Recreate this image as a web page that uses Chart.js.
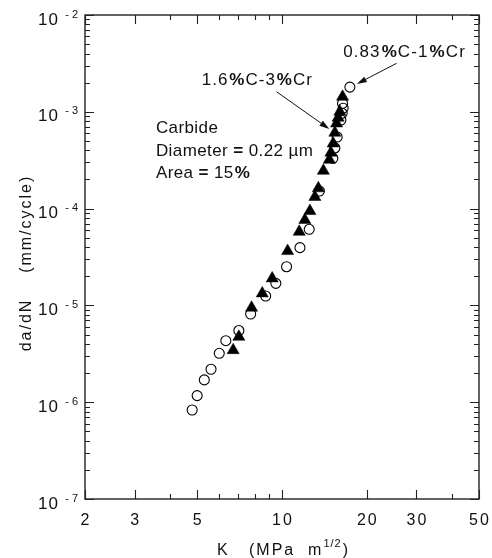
<!DOCTYPE html>
<html><head><meta charset="utf-8">
<script src="https://cdn.jsdelivr.net/npm/chart.js@4.4.1/dist/chart.umd.min.js"></script>
<style>html,body{margin:0;padding:0;background:#fff}#wrap{width:492px;height:558px}</style>
</head><body><div id="wrap"><canvas id="c" width="492" height="558"></canvas></div>
<script>
// ---- data ----
const circleK    = [17.41, 16.40, 16.48, 16.35, 16.18, 15.69, 15.40, 15.15, 13.57, 12.49, 11.58, 10.38, 9.51, 8.75, 7.74, 7.03, 6.32, 5.99, 5.60, 5.30, 5.00, 4.80];
const circleRate = [1.80e-3, 1.22e-3, 1.09e-3, 9.65e-4, 8.23e-4, 5.49e-4, 4.23e-4, 3.31e-4, 1.52e-4, 6.11e-5, 3.95e-5, 2.51e-5, 1.69e-5, 1.25e-5, 8.15e-6, 5.50e-6, 4.32e-6, 3.20e-6, 2.19e-6, 1.70e-6, 1.17e-6, 8.31e-7];
const triangleK    = [16.40, 16.04, 15.82, 15.62, 15.40, 15.19, 14.91, 14.72, 14.02, 13.46, 13.08, 12.56, 12.05, 11.51, 10.47, 9.23, 8.51, 7.80, 7.03, 6.71];
const triangleRate = [1.43e-3, 1.00e-3, 8.68e-4, 7.58e-4, 6.07e-4, 4.71e-4, 3.78e-4, 3.19e-4, 2.46e-4, 1.62e-4, 1.32e-4, 9.43e-5, 7.62e-5, 5.76e-5, 3.64e-5, 1.90e-5, 1.33e-5, 9.46e-6, 4.74e-6, 3.45e-6];
const xTickLabels = [2, 3, 5, 10, 20, 30, 50];
const xMinorTicks = [4, 6, 7, 8, 9, 40];
const yDecadeExponents = [-7, -6, -5, -4, -3, -2];
const xTitle = ['K', '(MPa  m', '1/2', ')'];
const yTitle = 'da/dN    (mm/cycle)';

// annotation anchors (in data space)
const notes = {
  label1: {k: 16.48, r: 4.08e-3, sp: 1.1, parts: [{t:'0.83'},{t:'%',b:1,pre:1},{t:'C-1'},{t:'%',b:1,pre:1},{t:'Cr'}]},
  arrow1: {from: {k: 25.5, r: 3.17e-3}, to: {k: 18.43, r: 1.94e-3}},
  label2: {k: 5.19, r: 2.13e-3, sp: 1.0, parts: [{t:'1.6'},{t:'%',b:1,pre:1},{t:'C-3'},{t:'%',b:1,pre:1},{t:'Cr'}]},
  arrow2: {from: {k: 9.57, r: 1.61e-3}, to: {k: 14.72, r: 6.64e-4}},
  block: {k: 3.57, sp: 0.4, lines: [
    {r: 6.75e-4, parts: [{t:'Carbide'}]},
    {r: 3.87e-4, parts: [{t:'Diameter '},{t:'=',b:1},{t:' 0.22 \u00b5m'}]},
    {r: 2.32e-4, parts: [{t:'Area '},{t:'=',b:1},{t:' 15'},{t:'%',b:1,pre:1}]}
  ]}
};

const FONT = '"Liberation Sans", Arial, Helvetica, sans-serif';
const INK = '#111';

// draw text char by char with extra tracking; returns advance width
function spacedWidth(ctx, text, sp) {
  let w = 0;
  for (const ch of text) w += ctx.measureText(ch).width + sp;
  return w - sp;
}
function drawSpaced(ctx, text, x, y, sp, align) {
  const w = spacedWidth(ctx, text, sp);
  let cx = align === 'center' ? x - w / 2 : align === 'right' ? x - w : x;
  const old = ctx.textAlign;
  ctx.textAlign = 'left';
  for (const ch of text) {
    ctx.fillText(ch, cx, y);
    cx += ctx.measureText(ch).width + sp;
  }
  ctx.textAlign = old;
  return w;
}

function drawRich(ctx, x, y, parts, size, sp) {
  let cx = x;
  for (const p of parts) {
    ctx.font = (p.b ? 'bold ' : '') + size + 'px ' + FONT;
    cx += (p.pre || 0);
    cx += drawSpaced(ctx, p.t, cx, y, sp, 'left') + sp;
  }
}

function arrow(ctx, x1, y1, x2, y2) {
  const a = Math.atan2(y2 - y1, x2 - x1), L = 10, W = 3;
  ctx.beginPath();
  ctx.moveTo(x1, y1);
  ctx.lineTo(x2 - Math.cos(a) * L * 0.8, y2 - Math.sin(a) * L * 0.8);
  ctx.stroke();
  ctx.beginPath();
  ctx.moveTo(x2, y2);
  ctx.lineTo(x2 - Math.cos(a) * L - Math.sin(a) * W, y2 - Math.sin(a) * L + Math.cos(a) * W);
  ctx.lineTo(x2 - Math.cos(a) * L + Math.sin(a) * W, y2 - Math.sin(a) * L - Math.cos(a) * W);
  ctx.closePath();
  ctx.fill();
}

const framePlugin = {
  id: 'frame',
  beforeDatasetsDraw(chart) {
    const ctx = chart.ctx, xs = chart.scales.x, ys = chart.scales.y, a = chart.chartArea;
    ctx.save();
    ctx.strokeStyle = '#222';
    ctx.lineWidth = 1.4;
    ctx.strokeRect(a.left, a.top, a.right - a.left, a.bottom - a.top);
    ctx.lineWidth = 1.1;
    ctx.beginPath();
    const MAJ = 9, MIN = 5;
    const xt = xTickLabels.map(v => [v, MAJ]).concat(xMinorTicks.map(v => [v, MIN]));
    for (const [v, len] of xt) {
      const px = Math.round(xs.getPixelForValue(v)) + 0.5;
      ctx.moveTo(px, a.bottom); ctx.lineTo(px, a.bottom - len);
      ctx.moveTo(px, a.top); ctx.lineTo(px, a.top + len);
    }
    for (const e of yDecadeExponents) {
      for (let m = 1; m <= 9; m++) {
        if (e === -2 && m > 1) break;
        const py = Math.round(ys.getPixelForValue(m * Math.pow(10, e))) + 0.5;
        const len = m === 1 ? MAJ : MIN;
        ctx.moveTo(a.left, py); ctx.lineTo(a.left + len, py);
        ctx.moveTo(a.right, py); ctx.lineTo(a.right - len, py);
      }
    }
    ctx.stroke();

    // tick labels
    ctx.fillStyle = INK;
    ctx.textBaseline = 'alphabetic';
    ctx.font = '16px ' + FONT;
    for (const v of xTickLabels) {
      drawSpaced(ctx, String(v), xs.getPixelForValue(v), a.bottom + 26, 2, 'center');
    }
    for (const e of yDecadeExponents) {
      const py = ys.getPixelForValue(Math.pow(10, e));
      ctx.font = '17px ' + FONT;
      drawSpaced(ctx, '10', a.left - 27, py + 9.5, 1, 'right');
      ctx.font = '11px ' + FONT;
      ctx.textAlign = 'right';
      ctx.fillText(String(Math.abs(e)), a.left - 7, py + 2.5);
      ctx.fillText('-', a.left - 16, py + 2.5);
    }

    // axis titles
    ctx.font = '16px ' + FONT;
    const ty = a.bottom + 56;
    drawSpaced(ctx, xTitle[0], 217, ty, 2, 'left');
    let cx = 249;
    cx += drawSpaced(ctx, xTitle[1], cx, ty, 2, 'left') + 2;
    ctx.font = '11px ' + FONT;
    cx += drawSpaced(ctx, xTitle[2], cx, ty - 8, 1, 'left') + 2;
    ctx.font = '16px ' + FONT;
    drawSpaced(ctx, xTitle[3], cx, ty, 2, 'left');

    ctx.save();
    ctx.translate(27, 264);
    ctx.rotate(-Math.PI / 2);
    ctx.textBaseline = 'middle';
    drawSpaced(ctx, yTitle, 0, 0, 2, 'center');
    ctx.restore();
    ctx.restore();
  },
  afterDatasetsDraw(chart) {
    const ctx = chart.ctx, xs = chart.scales.x, ys = chart.scales.y;
    const P = (k, r) => [xs.getPixelForValue(k), ys.getPixelForValue(r)];
    ctx.save();
    ctx.fillStyle = INK;
    ctx.strokeStyle = INK;
    ctx.lineWidth = 1;
    ctx.textBaseline = 'middle';
    ctx.textAlign = 'left';
    let p = P(notes.label1.k, notes.label1.r);
    drawRich(ctx, p[0], p[1], notes.label1.parts, 17, notes.label1.sp);
    p = P(notes.label2.k, notes.label2.r);
    drawRich(ctx, p[0], p[1], notes.label2.parts, 17, notes.label2.sp);
    for (const ln of notes.block.lines) {
      p = P(notes.block.k, ln.r);
      drawRich(ctx, p[0], p[1], ln.parts, 17, notes.block.sp);
    }
    for (const ar of [notes.arrow1, notes.arrow2]) {
      const f = P(ar.from.k, ar.from.r), t = P(ar.to.k, ar.to.r);
      arrow(ctx, f[0], f[1], t[0], t[1]);
    }
    ctx.restore();
  }
};

new Chart(document.getElementById('c'), {
  type: 'scatter',
  data: {
    datasets: [
      {
        label: '1.6%C-3%Cr',
        data: triangleK.map((k, i) => ({x: k, y: triangleRate[i]})),
        pointStyle: 'triangle', pointRadius: 7, pointHoverRadius: 7,
        backgroundColor: '#000', borderColor: '#000', borderWidth: 0.5,
        order: 0
      },
      {
        label: '0.83%C-1%Cr',
        data: circleK.map((k, i) => ({x: k, y: circleRate[i]})),
        pointStyle: 'circle', pointRadius: 5, pointHoverRadius: 5,
        backgroundColor: 'rgba(255,255,255,0)', borderColor: '#000', borderWidth: 1.1,
        order: 1
      }
    ]
  },
  options: {
    responsive: false,
    animation: false,
    devicePixelRatio: 1,
    layout: {padding: {left: 85, right: 13, top: 15, bottom: 59}},
    plugins: {legend: {display: false}, tooltip: {enabled: false}},
    scales: {
      x: {type: 'logarithmic', min: 2, max: 50, display: false},
      y: {type: 'logarithmic', min: 1e-7, max: 1e-2, display: false}
    }
  },
  plugins: [framePlugin]
});
</script></body></html>
